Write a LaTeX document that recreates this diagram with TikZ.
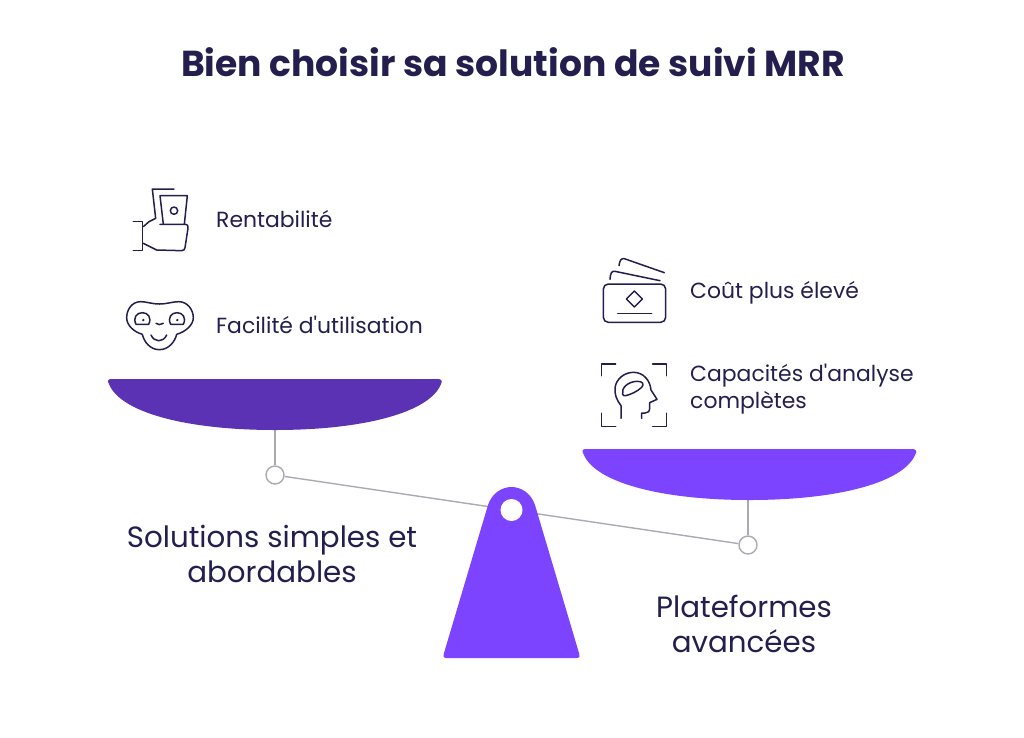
\documentclass[tikz,border=0pt]{standalone}
\usepackage{fontspec}
\setmainfont{Poppins}[Ligatures=TeXOff]
\usepackage{xcolor}
\usetikzlibrary{positioning}
\definecolor{inkcolor}{RGB}{35, 30, 78}
\definecolor{beamcolor}{RGB}{170, 170, 178}
\definecolor{pandark}{RGB}{92, 50, 181}
\definecolor{panlight}{RGB}{124, 68, 255}

\newcommand{\panshape}{(111,379) -- (438,379) .. controls (441,379) and (443,381) .. (441,384)
    .. controls (430,412) and (365,430) .. (275,430) .. controls (185,430) and (120,412) .. (109,384)
    .. controls (107,381) and (108,379) .. (111,379) -- cycle}

\begin{document}
\begin{tikzpicture}[
    x=1pt, y=-1pt,
    title/.style={font=\fontsize{36.1}{42}\selectfont\bfseries, text=inkcolor},
    itemlabel/.style={font=\fontsize{21.9}{27}\selectfont, text=inkcolor, align=left, anchor=west, inner sep=0pt},
    sidelabel/.style={font=\fontsize{29.3}{35}\selectfont, text=inkcolor, align=center, inner sep=0pt},
    pivot/.style={circle, draw=beamcolor, fill=white, line width=1.4pt, minimum size=18pt, inner sep=0pt},
    hole/.style={circle, fill=white, minimum size=22pt, inner sep=0pt},
    beam/.style={beamcolor, line width=1.4pt},
    icon/.style={inkcolor, line width=1.5pt, line cap=round, line join=round}
]
    \useasboundingbox (0,0) rectangle (1024,737);

    % Title
    \node[title] (heading) at (513,62) {Bien choisir sa solution de suivi MRR};

    % Nodes - items on the left pan
    \node[itemlabel] (rentab) at (216,219) {Rentabilité};
    \node[itemlabel] (facilite) at (216,325) {Facilité d'utilisation};

    % Nodes - items on the right pan
    \node[itemlabel] (cout) at (690,293) {Coût plus élevé};
    \node[itemlabel] (analyse) at (690,389) {Capacités d'analyse\\complètes};

    % Nodes - scale
    \node[pivot] (pivotleft) at (275,475) {};
    \node[pivot] (pivotright) at (748,545) {};
    \coordinate (hookleft) at (275,430);
    \coordinate (hookright) at (748,500);

    % Arrows
    \draw[beam] (pivotleft) -- (pivotright);
    \draw[beam] (hookleft) -- (pivotleft);
    \draw[beam] (hookright) -- (pivotright);

    % Pans and stand
    \fill[pandark] \panshape;
    \fill[panlight, shift={(474.5,70)}] \panshape;
    \fill[panlight] (446,658) .. controls (443,658) and (443,655) .. (444,653)
        -- (488,505) .. controls (492,493) and (502,487) .. (511.5,487)
        .. controls (521,487) and (531,493) .. (535,505)
        -- (579,653) .. controls (580,655) and (580,658) .. (577,658) -- cycle;
    \node[hole] (standhole) at (511.5,510) {};

    % Side labels
    \node[sidelabel] (simples) at (272,553.5) {Solutions simples et\\abordables};
    \node[sidelabel] (avancees) at (744,623.5) {Plateformes\\avancées};

    % Icon - money in hand
    \begin{scope}[shift={(125,180)}, x=0.3333pt, y=-0.3333pt]
        \draw[icon] (147,27) -- (82,27) -- (92,115) -- (72,125) -- (55,140);
        \draw[icon] (25,124) -- (52,124) -- (52,212) -- (25,212);
        \draw[icon] (55,190) -- (95,210) -- (170,212) .. controls (177,212) and (179,208) .. (180,203)
            -- (189,145) .. controls (190,137) and (188,133) .. (182,133) -- (105,133);
        \draw[icon] (115,133) -- (105,47) -- (187,47) -- (178,133);
        \draw[icon] (147,92) circle (11);
    \end{scope}

    % Icon - smiling face
    \begin{scope}[shift={(120,295)}, x=0.3333pt, y=-0.3333pt]
        \draw[icon] (118,27) .. controls (95,27) and (80,20) .. (62,20)
            .. controls (35,20) and (20,45) .. (20,68) .. controls (20,90) and (40,110) .. (67,118)
            .. controls (72,140) and (90,164) .. (118,164) .. controls (146,164) and (165,140) .. (170,118)
            .. controls (197,110) and (220,90) .. (220,68) .. controls (220,45) and (203,20) .. (176,20)
            .. controls (158,20) and (141,27) .. (118,27) -- cycle;
        \draw[icon] (48,88) .. controls (38,68) and (50,53) .. (67,53) .. controls (84,53) and (96,68) .. (86,88) -- cycle;
        \draw[icon] (152,88) .. controls (142,68) and (154,53) .. (171,53) .. controls (188,53) and (200,68) .. (190,88) -- cycle;
        \fill[inkcolor] (70,75) circle (4);
        \fill[inkcolor] (172,75) circle (4);
        \draw[icon] (108,85) .. controls (113,90) and (122,90) .. (130,85);
        \draw[icon] (93,120) .. controls (103,143) and (130,143) .. (140,120);
    \end{scope}

    % Icon - cards
    \begin{scope}[shift={(595,250)}, x=0.3333pt, y=-0.3333pt]
        \draw[icon, rounded corners=5pt] (25,102) rectangle (212,217);
        \draw[icon] (118,123) -- (142,147) -- (118,171) -- (94,147) -- cycle;
        \draw[icon] (68,190) -- (170,190);
        \draw[icon] (45,88) .. controls (46,70) and (50,62) .. (60,64) -- (195,92);
        \draw[icon] (72,47) .. controls (74,32) and (78,24) .. (88,26) -- (208,68);
    \end{scope}

    % Icon - head in frame
    \begin{scope}[shift={(595,355)}, x=0.3333pt, y=-0.3333pt]
        \draw[icon] (20,62) -- (20,27) -- (62,27);
        \draw[icon] (173,27) -- (215,27) -- (215,62);
        \draw[icon] (20,175) -- (20,215) -- (62,215);
        \draw[icon] (173,215) -- (215,215) -- (215,175);
        \draw[icon] (78,190) -- (78,152) .. controls (65,135) and (58,118) .. (60,98)
            .. controls (64,70) and (90,52) .. (115,52) .. controls (145,52) and (165,75) .. (168,105)
            -- (186,133) -- (164,143) -- (164,160) .. controls (164,170) and (158,174) .. (150,174)
            -- (140,174) -- (140,190);
        \draw[icon] (83,118) .. controls (78,98) and (100,80) .. (125,79)
            .. controls (143,78) and (149,87) .. (140,97) .. controls (127,110) and (105,119) .. (92,122)
            .. controls (88,123) and (84,122) .. (83,118) -- cycle;
    \end{scope}
\end{tikzpicture}
\end{document}
